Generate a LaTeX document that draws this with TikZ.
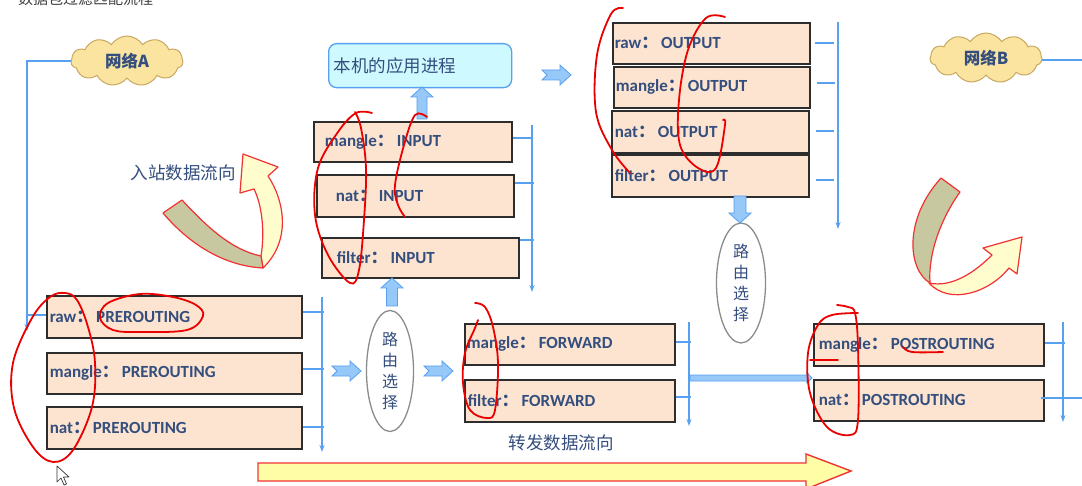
\documentclass[tikz,border=0pt]{standalone}
\usepackage{fontspec}
\setmainfont{Carlito}
\newfontfamily\cjk{Noto Sans CJK SC}
\usetikzlibrary{shapes.geometric,shapes.symbols,arrows.meta,calc}

\definecolor{peach}{RGB}{252,228,208}
\definecolor{boxedge}{RGB}{45,45,45}
\definecolor{ink}{RGB}{52,78,126}
\definecolor{wire}{RGB}{88,160,240}
\definecolor{padfill}{RGB}{150,200,248}
\definecolor{cyanfill}{RGB}{206,250,255}
\definecolor{cloudfill}{RGB}{250,228,160}
\definecolor{cloudedge}{RGB}{200,168,96}
\definecolor{olive}{RGB}{200,200,160}
\definecolor{cream}{RGB}{255,253,205}
\definecolor{ovalgray}{RGB}{140,140,140}
\definecolor{pen}{RGB}{235,0,0}
\definecolor{bandred}{RGB}{240,50,50}

% table: chain label with a full-width colon
\newcommand{\tlabel}[2]{#1{\cjk ：}\,#2}

\begin{document}
\begin{tikzpicture}[x=1pt,y=-1pt,
  tbox/.style={draw=boxedge, line width=1.6pt, fill=peach, anchor=north west,
    inner ysep=0pt, align=left, text=ink,
    font=\fontsize{17}{20}\selectfont\bfseries},
  wire/.style={draw=wire, line width=1.4pt},
  downtip/.style={-{Stealth[length=7pt,width=5pt]}},
  pad/.style={fill=padfill, draw=wire, line width=0.8pt, line join=miter},
  blockarrow/.style n args={4}{to path={
     ($(\tikztostart)!#1!90:(\tikztotarget)$)
     -- ($(\tikztotarget)!#3!(\tikztostart)!#1!90:(\tikztotarget)$)
     -- ($(\tikztotarget)!#3!(\tikztostart)!#2!90:(\tikztotarget)$)
     -- (\tikztotarget)
     -- ($(\tikztotarget)!#3!(\tikztostart)!#2!-90:(\tikztotarget)$)
     -- ($(\tikztotarget)!#3!(\tikztostart)!#1!-90:(\tikztotarget)$)
     -- ($(\tikztostart)!#1!-90:(\tikztotarget)$)
     -- ($(\tikztostart)!#4!(\tikztotarget)$)
     -- cycle}},
  oval/.style={ellipse, draw=ovalgray, line width=1.3pt, fill=white, inner sep=0pt,
    align=center, text=ink, font=\cjk\fontsize{16}{21}\selectfont},
  cjklabel/.style={text=ink, font=\cjk\fontsize{17.5}{20}\selectfont, inner sep=0pt},
  netcloud/.style={cloud, cloud puffs=11, cloud puff arc=115, aspect=2.4,
    draw=cloudedge, fill=cloudfill, line width=1pt, inner sep=0pt,
    minimum width=112pt, minimum height=50pt, text=ink,
    font=\cjk\fontsize{16.5}{20}\selectfont\bfseries},
  band/.style={draw=bandred, line width=1.2pt, line join=round},
  pen/.style={draw=pen, line width=1.8pt, line cap=round, line join=round}
]
\useasboundingbox (0,0) rectangle (1082,486);
\fill[white] (0,0) rectangle (1082,486);
\clip (0,0) rectangle (1082,486);

% page heading, cut by the top edge
\node[anchor=base west, inner sep=0pt, text=black!75,
  font=\cjk\fontsize{15}{18}\selectfont] (heading) at (18,5) {数据包过滤匹配流程};

% networks
\node[netcloud] (netA) at (127,61) {网络A};
\node[netcloud] (netB) at (986,58) {网络B};

% local process
\node[draw=wire, line width=1.3pt, fill=cyanfill, rounded corners=8pt,
  anchor=north west, minimum width=183pt, minimum height=44pt,
  text width=173pt, inner xsep=5pt, align=left, text=ink,
  font=\cjk\fontsize{17.5}{20}\selectfont] (app) at (328,43) {本机的应用进程};

% INPUT chain
\node[tbox, minimum height=40pt, text width=176pt, inner xsep=11pt] (mIN) at (313,121) {\tlabel{mangle}{INPUT}};
\node[tbox, minimum height=42pt, text width=159pt, inner xsep=19pt] (nIN) at (316,174) {\tlabel{nat}{INPUT}};
\node[tbox, minimum height=40pt, text width=167pt, inner xsep=15pt] (fIN) at (321,237) {\tlabel{filter}{INPUT}};

% OUTPUT chain
\node[tbox, minimum height=41pt, text width=193pt, inner xsep=2pt] (rOUT) at (612,22) {\tlabel{raw}{OUTPUT}};
\node[tbox, minimum height=41pt, text width=192pt, inner xsep=2pt] (mOUT) at (613,66) {\tlabel{mangle}{OUTPUT}};
\node[tbox, minimum height=42pt, text width=191pt, inner xsep=3pt] (nOUT) at (611,110) {\tlabel{nat}{OUTPUT}};
\node[tbox, minimum height=42pt, text width=191pt, inner xsep=3pt] (fOUT) at (611,154) {\tlabel{filter}{OUTPUT}};

% PREROUTING chain
\node[tbox, minimum height=42pt, text width=249pt, inner xsep=3pt] (rPRE) at (46,295) {\tlabel{raw}{PREROUTING}};
\node[tbox, minimum height=41pt, text width=249pt, inner xsep=3pt] (mPRE) at (46,352) {\tlabel{mangle}{PREROUTING}};
\node[tbox, minimum height=42pt, text width=249pt, inner xsep=3pt] (nPRE) at (46,406) {\tlabel{nat}{PREROUTING}};

% FORWARD chain
\node[tbox, minimum height=41pt, text width=206pt, inner xsep=2pt] (mFWD) at (464,323) {\tlabel{mangle}{FORWARD}};
\node[tbox, minimum height=42pt, text width=204pt, inner xsep=3pt] (fFWD) at (464,379) {\tlabel{filter}{FORWARD}};

% POSTROUTING chain
\node[tbox, minimum height=42pt, text width=220pt, inner xsep=5pt] (mPOST) at (813,323) {\tlabel{mangle}{POSTROUTING}};
\node[tbox, minimum height=41pt, text width=220pt, inner xsep=5pt] (nPOST) at (813,379) {\tlabel{nat}{POSTROUTING}};

% routing decisions
\node[oval, minimum width=47pt, minimum height=121pt] (ell1) at (390,371) {路\\由\\选\\择};
\node[oval, minimum width=49pt, minimum height=120pt] (ell2) at (741,283) {路\\由\\选\\择};

% flow captions
\node[cjklabel] (inCap) at (183,173) {入站数据流向};
\node[cjklabel] (fwdCap) at (561,443) {转发数据流向};

% ---------- thin blue wiring ----------
\coordinate (inA) at (27,331);
\coordinate (tapA) at (27,315);
\draw[wire, downtip] (netA.west) -| (inA);
\draw[wire] (tapA) -- (tapA -| rPRE.west);
\coordinate (edgeB) at (1082,60);
\draw[wire] (netB.east |- edgeB) -- (edgeB);

% INPUT bar
\coordinate (barINt) at (532,125);
\coordinate (barINb) at (532,292);
\draw[wire, downtip] (barINt) -- (barINb);
\draw[wire] ([yshift=-17pt]mIN.north east) -- ++(19,0);
\draw[wire] ([yshift=-9pt]nIN.north east) -- ++(19,0);
\draw[wire] ([yshift=-3pt]fIN.north east) -- ++(14,0);

% OUTPUT bar
\coordinate (barOUTt) at (838,22);
\coordinate (barOUTb) at (838,229);
\draw[wire, downtip] (barOUTt) -- (barOUTb);
\draw[wire] ([xshift=4pt,yshift=-21pt]rOUT.north east) -- ++(19,0);
\draw[wire] ([xshift=6pt,yshift=-17pt]mOUT.north east) -- ++(18,0);
\draw[wire] ([xshift=6pt,yshift=-21pt]nOUT.north east) -- ++(18,0);
\draw[wire] ([xshift=6pt,yshift=-26pt]fOUT.north east) -- ++(18,0);

% PREROUTING bar
\coordinate (barPREt) at (322,297);
\coordinate (barPREb) at (322,452);
\draw[wire, downtip] (barPREt) -- (barPREb);
\draw[wire] ([yshift=-17pt]rPRE.north east) -- ++(21,0);
\draw[wire] ([yshift=-17pt]mPRE.north east) -- ++(21,0);
\draw[wire] ([yshift=-21pt]nPRE.north east) -- ++(21,0);

% FORWARD bar
\coordinate (barFWDt) at (689,322);
\coordinate (barFWDb) at (689,426);
\draw[wire, downtip] (barFWDt) -- (barFWDb);
\draw[wire] ([yshift=-19pt]mFWD.north east) -- ++(15,0);
\draw[wire] ([yshift=-18pt]fFWD.north east) -- ++(15,0);

% POSTROUTING bar
\coordinate (barPOSTt) at (1063,322);
\coordinate (barPOSTb) at (1063,422);
\draw[wire, downtip] (barPOSTt) -- (barPOSTb);
\draw[wire] ([yshift=-20pt]mPOST.north east) -- ++(20,0);
\draw[wire] ([xshift=-4pt,yshift=-19pt]nPOST.north east) -- ++(45,0);

% ---------- fat blue flow arrows ----------
\coordinate (u1) at (392,306);
\coordinate (u2) at (392,278);
\draw[pad, blockarrow={5.5pt}{11pt}{10pt}{0pt}] (u1) to (u2);
\coordinate (v1) at (422,119);
\coordinate (v2) at (422,87);
\draw[pad, blockarrow={5pt}{11pt}{10pt}{0pt}] (v1) to (v2);
\coordinate (w1) at (740,196);
\coordinate (w2) at (740,223);
\draw[pad, blockarrow={6pt}{11pt}{10pt}{0pt}] (w1) to (w2);
\coordinate (h1) at (542,75);
\coordinate (h2) at (571,75);
\draw[pad, blockarrow={5pt}{10pt}{11pt}{5pt}] (h1) to (h2);
\coordinate (p1) at (332,371);
\coordinate (p2) at (361,371);
\draw[pad, blockarrow={5pt}{10pt}{11pt}{5pt}] (p1) to (p2);
\coordinate (q1) at (424,371);
\coordinate (q2) at (453,371);
\draw[pad, blockarrow={5pt}{10pt}{11pt}{5pt}] (q1) to (q2);
\coordinate (f1) at (690,378);
\coordinate (f2) at (812,378);
\draw[pad, blockarrow={3pt}{5pt}{5pt}{0pt}] (f1) to (f2);

% ---------- forwarding band along the bottom ----------
\fill[cream!70!yellow!80!white, draw=bandred, line width=1.4pt]
  (258,463) -- (806,463) -- (806,454) -- (851,471) -- (806,489) -- (806,481) -- (258,481) -- cycle;

% ---------- curled arrows ----------
% inbound: rises from the left
\draw[band, fill=cream]
  (261,256) .. controls (265,232) and (262,205) .. (254,189) -- (240,193) -- (243,154)
  -- (278,167) -- (268,176) .. controls (284,200) and (292,240) .. (263,268) -- cycle;
\draw[band, fill=olive]
  (163,213) -- (182,200) .. controls (208,228) and (232,250) .. (261,256)
  -- (263,268) .. controls (225,266) and (190,245) .. cycle;
% outbound: drops then turns right
\draw[band, fill=cream]
  (929,283) .. controls (950,306) and (990,292) .. (1009,268) -- (1017,274) -- (1022,237)
  -- (983,248) -- (992,255) .. controls (975,272) and (952,288) .. (929,283) -- cycle;
\draw[band, fill=olive]
  (941,178) -- (960,192) .. controls (940,220) and (928,255) .. (930,283)
  .. controls (908,270) and (903,220) .. cycle;

% mouse pointer
\draw[fill=white, draw=black!80, line width=0.7pt, line join=round]
  (57,466) -- (57,482) -- (61,478) -- (64,485) -- (66.5,484) -- (63.5,477) -- (69,477) -- cycle;

% ---------- red pen marks ----------
\draw[pen] plot[smooth, tension=0.6] coordinates {(372,113) (356,113) (338,132) (318,168) (315,215) (328,255) (350,283) (359,270) (364,220) (366,168) (361,128) (355,112)};
\draw[pen] plot[smooth, tension=0.6] coordinates {(427,117) (415,115) (404,145) (395,185) (398,205) (405,217)};
\draw[pen] plot[smooth, tension=0.6] coordinates {(623,8) (611,14) (597,55) (596,112) (612,150) (630,173)};
\draw[pen] plot[smooth, tension=0.6] coordinates {(725,17) (706,18) (688,50) (679,100) (680,145) (698,168) (716,168) (725,125) (723,120)};
\draw[pen] plot[smooth cycle, tension=0.6] coordinates {(65,293) (50,297) (32,318) (13,363) (14,408) (33,447) (53,462) (73,450) (92,407) (95,363) (88,327) (77,300)};
\draw[pen] plot[smooth cycle, tension=0.6] coordinates {(140,294) (108,303) (100,318) (113,330) (140,332) (187,330) (203,316) (196,305) (173,297)};
\draw[pen] plot[smooth, tension=0.6] coordinates {(475,303) (485,307) (493,327) (498,363) (495,410) (487,418) (470,410) (463,383) (465,353) (475,328) (478,320)};
\draw[pen] plot[smooth, tension=0.6] coordinates {(837,305) (848,307) (855,313) (858,347) (858,420) (850,435) (827,427) (810,393) (808,353) (818,325) (832,315) (858,313)};
\draw[pen] (810,360) -- (838,360);
\draw[pen] plot[smooth, tension=0.6] coordinates {(903,347) (912,352) (943,352)};

\end{tikzpicture}
\end{document}
